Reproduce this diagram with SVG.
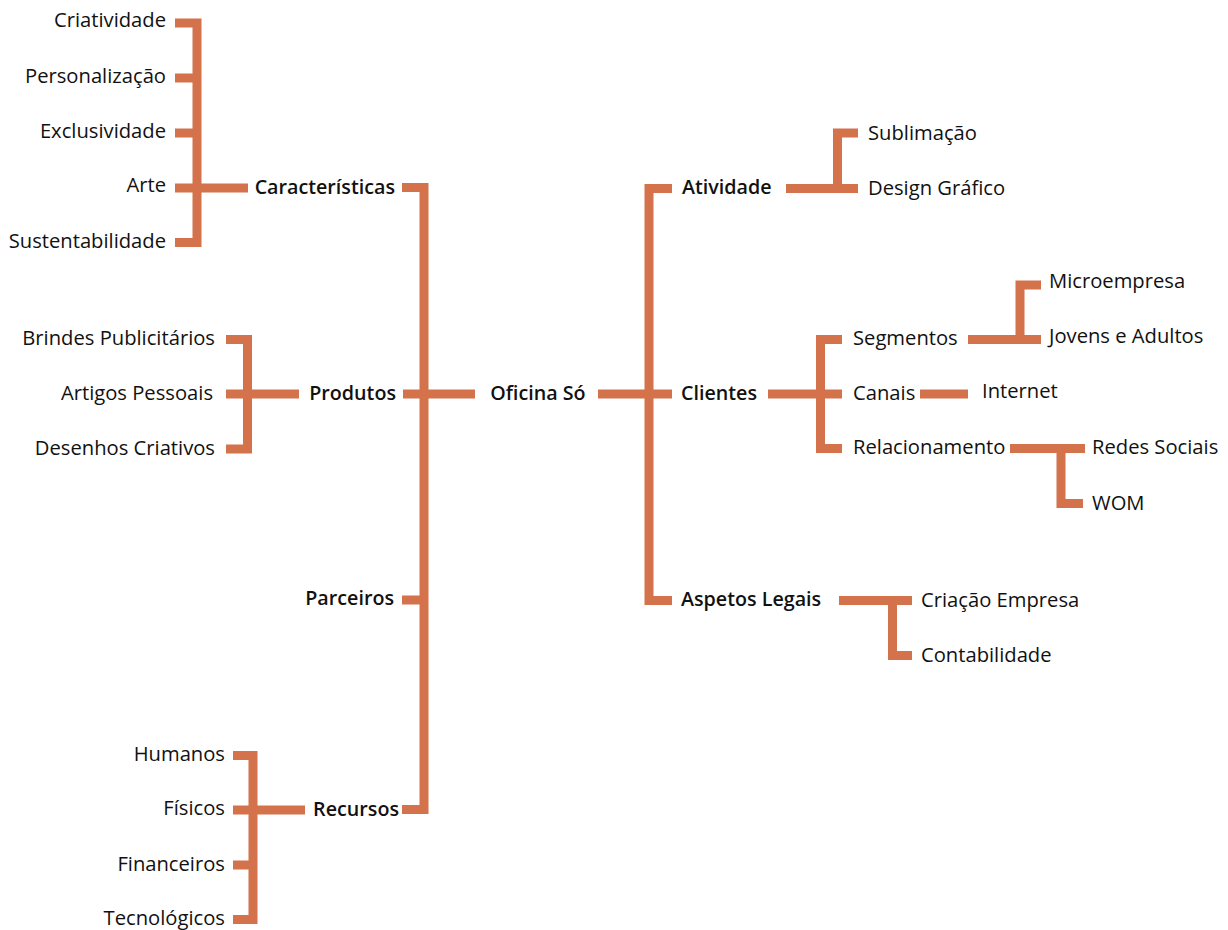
<svg xmlns="http://www.w3.org/2000/svg" width="1228" height="930" viewBox="0 0 1228 930">
<style>
.c{fill:none;stroke:#D4724C;stroke-width:9;stroke-linejoin:miter;stroke-linecap:butt}
text{font-family:"Open Sans","Liberation Sans",sans-serif;font-size:20.2px;fill:#111}
.b{font-weight:600;font-size:19.7px}
.e{text-anchor:end}
.m{text-anchor:middle}
</style>
<rect width="1228" height="930" fill="#fff"/>
<g id="connectors">
<path class="c" d="M175,23 H197 V242.5 H175"/>
<path class="c" d="M175,78 H199 M175,133 H199 M175,188 H248"/>
<path class="c" d="M402,187.5 H424 V809.5 H402"/>
<path class="c" d="M403,394 H475 M402,600 H424"/>
<path class="c" d="M226,339.5 H247.5 V449 H226 M226,394 H299"/>
<path class="c" d="M233,755.5 H253 V919.5 H233 M233,810 H305 M233,865 H255"/>
<path class="c" d="M672,188.5 H649 V600.5 H672 M598,394 H672"/>
<path class="c" d="M786,188.5 H858 M858,133 H837.5 V188.5"/>
<path class="c" d="M768,394 H842 M842,339.5 H820.5 V448.5 H842"/>
<path class="c" d="M968,339.5 H1041 M1041,285 H1020 V339.5"/>
<path class="c" d="M920,394 H968"/>
<path class="c" d="M1010,448.5 H1085 M1061,448.5 V503.5 H1083"/>
<path class="c" d="M839,600.5 H912 M892.5,600.5 V655.5 H912"/>
</g>
<g id="n-criatividade"><text class="e" x="166" y="27">Criatividade</text></g>
<g id="n-personalizacao"><text class="e" x="166" y="83">Personalização</text></g>
<g id="n-exclusividade"><text class="e" x="166" y="138">Exclusividade</text></g>
<g id="n-arte"><text class="e" x="166" y="192">Arte</text></g>
<g id="n-sustentabilidade"><text class="e" x="166" y="248">Sustentabilidade</text></g>
<g id="n-caracteristicas"><text class="b e" x="395" y="194">Características</text></g>
<g id="n-brindes"><text class="e" x="215" y="345">Brindes Publicitários</text></g>
<g id="n-artigos"><text class="e" x="213" y="400">Artigos Pessoais</text></g>
<g id="n-desenhos"><text class="e" x="215" y="455">Desenhos Criativos</text></g>
<g id="n-produtos"><text class="b e" x="396" y="400">Produtos</text></g>
<g id="n-parceiros"><text class="b e" x="394" y="605">Parceiros</text></g>
<g id="n-recursos"><text class="b e" x="399" y="816">Recursos</text></g>
<g id="n-humanos"><text class="e" x="225" y="761">Humanos</text></g>
<g id="n-fisicos"><text class="e" x="225" y="815">Físicos</text></g>
<g id="n-financeiros"><text class="e" x="225" y="871">Financeiros</text></g>
<g id="n-tecnologicos"><text class="e" x="225" y="925">Tecnológicos</text></g>
<g id="n-oficina"><text class="b m" x="538" y="400">Oficina Só</text></g>
<g id="n-atividade"><text class="b" x="682" y="194">Atividade</text></g>
<g id="n-sublimacao"><text x="868" y="140">Sublimação</text></g>
<g id="n-design"><text x="868" y="195">Design Gráfico</text></g>
<g id="n-clientes"><text class="b" x="681" y="400">Clientes</text></g>
<g id="n-segmentos"><text x="853" y="345">Segmentos</text></g>
<g id="n-canais"><text x="853" y="400">Canais</text></g>
<g id="n-relacionamento"><text x="853" y="454">Relacionamento</text></g>
<g id="n-microempresa"><text x="1049" y="288">Microempresa</text></g>
<g id="n-jovens"><text x="1049" y="343">Jovens e Adultos</text></g>
<g id="n-internet"><text x="982" y="398">Internet</text></g>
<g id="n-redes"><text x="1092" y="454">Redes Sociais</text></g>
<g id="n-wom"><text x="1092" y="510">WOM</text></g>
<g id="n-aspetos"><text class="b" x="681" y="606">Aspetos Legais</text></g>
<g id="n-criacao"><text x="921" y="607">Criação Empresa</text></g>
<g id="n-contabilidade"><text x="921" y="662">Contabilidade</text></g>
</svg>
